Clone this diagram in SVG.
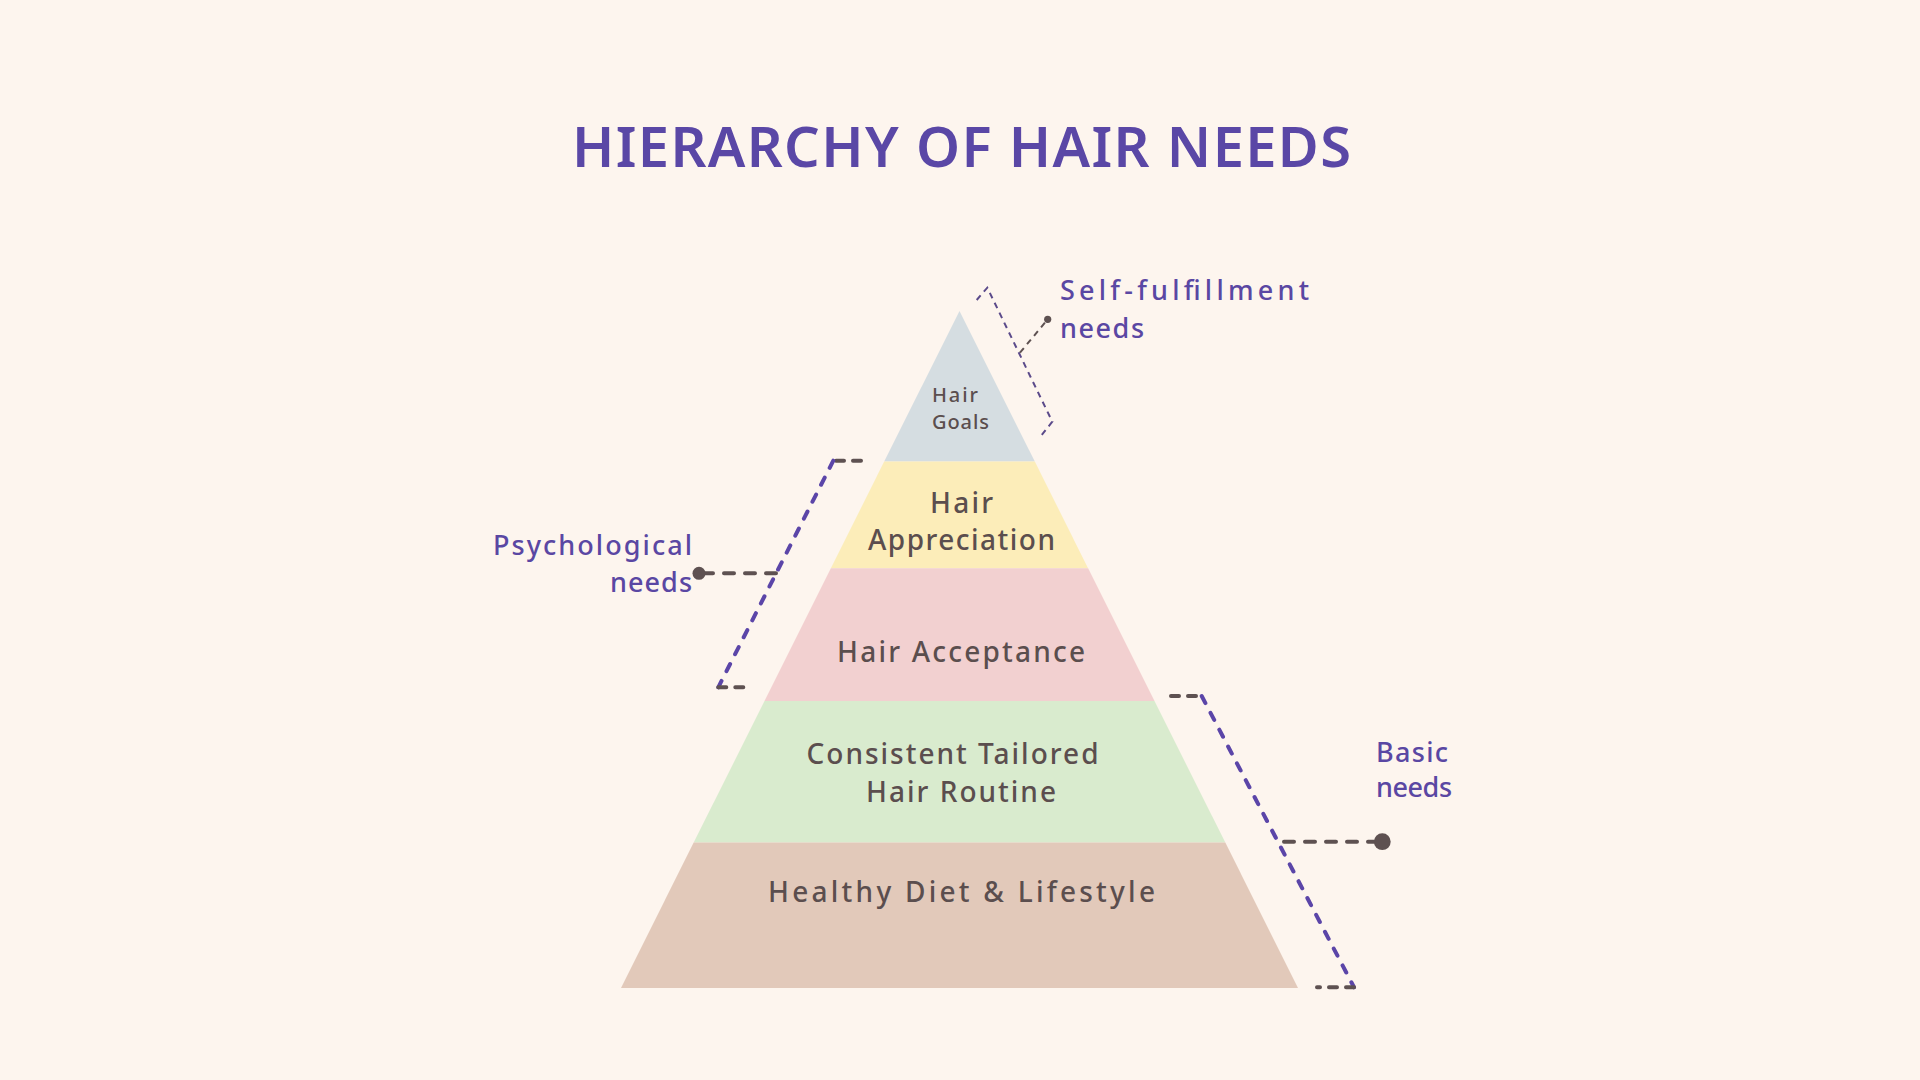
<svg xmlns="http://www.w3.org/2000/svg" width="1920" height="1080" viewBox="0 0 1920 1080">
  <style>
    .title { font-family: "Noto Sans", "DejaVu Sans", sans-serif; font-size: 56px; font-weight: 600; fill: #5A47A6; }
    .lab { font-family: "Noto Sans", "DejaVu Sans", sans-serif; font-size: 27px; font-weight: 500; fill: #5A47A3; }
    .lvl { font-family: "Noto Sans", "DejaVu Sans", sans-serif; font-size: 28px; font-weight: 500; fill: #5B4E4E; }
    .lvls { font-family: "Noto Sans", "DejaVu Sans", sans-serif; font-size: 20px; font-weight: 500; fill: #5B4E4E; }
    .br { fill: none; stroke: #5B45A8; stroke-width: 4; stroke-dasharray: 8 11; stroke-linecap: round; }
    .stub { fill: none; stroke: #5E5151; stroke-width: 4; stroke-dasharray: 8 9; stroke-linecap: round; }
    .lead { fill: none; stroke: #5E5151; stroke-width: 4; stroke-dasharray: 10 11; stroke-linecap: round; }
    .brs { fill: none; stroke: #5B4A8A; stroke-width: 2; stroke-dasharray: 6 5; }
    .leads { fill: none; stroke: #5E5151; stroke-width: 2; stroke-dasharray: 6 5; }
    .dot { fill: #5E5151; }
  </style>
  <rect width="1920" height="1080" fill="#FDF5EE"/>

  <g id="title">
    <text class="title" x="572" y="167" textLength="779" lengthAdjust="spacing">HIERARCHY OF HAIR NEEDS</text>
  </g>

  <g id="level-hair-goals">
    <polygon points="959.5,311 1034.8,461.6 884.2,461.6" fill="#D5DDE1"/>
    <text class="lvls" x="932" y="402" textLength="46" lengthAdjust="spacing">Hair</text>
    <text class="lvls" x="932" y="429" textLength="57" lengthAdjust="spacing">Goals</text>
  </g>

  <g id="level-hair-appreciation">
    <polygon points="884.2,461.6 1034.8,461.6 1088.1,568.3 830.9,568.3" fill="#FCEDB9"/>
    <text class="lvl" x="930" y="513" textLength="63" lengthAdjust="spacing">Hair</text>
    <text class="lvl" x="868" y="550" textLength="187" lengthAdjust="spacing">Appreciation</text>
  </g>

  <g id="level-hair-acceptance">
    <polygon points="830.9,568.3 1088.1,568.3 1154.5,701 764.5,701" fill="#F2D0D0"/>
    <text class="lvl" x="837" y="661.5" textLength="248" lengthAdjust="spacing">Hair Acceptance</text>
  </g>

  <g id="level-hair-routine">
    <polygon points="764.5,701 1154.5,701 1225.3,842.6 693.7,842.6" fill="#D9EBCE"/>
    <text class="lvl" x="806.5" y="764" textLength="292" lengthAdjust="spacing">Consistent Tailored</text>
    <text class="lvl" x="866" y="801.5" textLength="190" lengthAdjust="spacing">Hair Routine</text>
  </g>

  <g id="level-diet-lifestyle">
    <polygon points="693.7,842.6 1225.3,842.6 1298,988 621,988" fill="#E2C9BA"/>
    <text class="lvl" x="768" y="901.5" textLength="387" lengthAdjust="spacing">Healthy Diet &amp; Lifestyle</text>
  </g>

  <g id="label-self-fulfillment">
    <text class="lab" x="1060" y="300" textLength="249" lengthAdjust="spacing">Self-fulfillment</text>
    <text class="lab" x="1060" y="338" textLength="84" lengthAdjust="spacing">needs</text>
  </g>

  <g id="label-psychological">
    <text class="lab" x="493" y="555" textLength="199" lengthAdjust="spacing">Psychological</text>
    <text class="lab" x="610" y="591.5" textLength="82" lengthAdjust="spacing">needs</text>
  </g>

  <g id="label-basic">
    <text class="lab" x="1376" y="761.5" textLength="72" lengthAdjust="spacing">Basic</text>
    <text class="lab" x="1376" y="796.5" textLength="76" lengthAdjust="spacing">needs</text>
  </g>

  <g id="connectors">
    <!-- self-fulfillment bracket -->
    <polyline class="brs" points="976.7,300 987.3,287.7 1052.3,421.7 1041.7,435"/>
    <line class="leads" x1="1020" y1="352.7" x2="1047.7" y2="319.3"/>
    <circle class="dot" cx="1047.7" cy="319.3" r="3.6"/>

    <!-- psychological bracket -->
    <line class="stub" x1="861" y1="460.7" x2="833.3" y2="460.7"/>
    <line class="br" x1="833.3" y1="460.7" x2="718.3" y2="687.3"/>
    <line class="stub" x1="718.3" y1="687.3" x2="746" y2="687.3"/>
    <line class="lead" x1="776" y1="573.3" x2="704" y2="573.3"/>
    <circle class="dot" cx="699" cy="573.3" r="6.5"/>

    <!-- basic bracket -->
    <line class="stub" x1="1171" y1="696" x2="1201.7" y2="696"/>
    <line class="br" x1="1201.7" y1="696" x2="1354" y2="987.3"/>
    <line class="stub" x1="1354" y1="987.3" x2="1317" y2="987.3"/>
    <line class="lead" x1="1284" y1="841.7" x2="1376" y2="841.7"/>
    <circle class="dot" cx="1382.3" cy="841.7" r="8.4"/>
  </g>
</svg>
